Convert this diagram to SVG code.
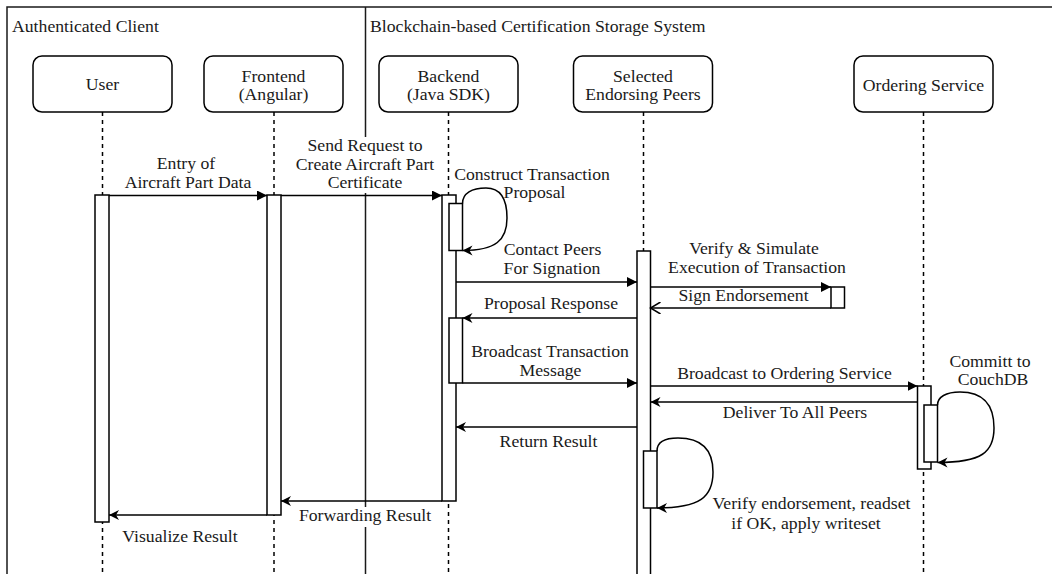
<svg xmlns="http://www.w3.org/2000/svg" width="1052" height="574" viewBox="0 0 1052 574">
<defs>
<style>
text{font-family:"Liberation Serif","Times New Roman",serif;font-size:17.7px;fill:#1a1a1a;text-anchor:middle}
.lt{text-anchor:start}
.frame{stroke:#1a1a1a;stroke-width:1.5;fill:none}
.node{fill:#fff;stroke:#000;stroke-width:1.5}
.life{stroke:#000;stroke-width:1.5;stroke-dasharray:4 4;fill:none}
.bar{fill:#fff;stroke:#000;stroke-width:1.5}
.msg{stroke:#000;stroke-width:1.5;fill:none}
.bg{fill:#fff;stroke:none}
</style>
<marker id="block" markerUnits="userSpaceOnUse" markerWidth="11" markerHeight="11" refX="10" refY="5" orient="auto"><path d="M0,0 L10,5 L0,10 z" fill="#000"/></marker>
<marker id="classic" markerUnits="userSpaceOnUse" markerWidth="11" markerHeight="11" refX="10" refY="5" orient="auto"><path d="M0,0 L10,5 L0,10 L3,5 z" fill="#000"/></marker>
<marker id="open" markerUnits="userSpaceOnUse" markerWidth="12" markerHeight="12" refX="10" refY="6" orient="auto"><path d="M0,0 L10,6 L0,12" fill="none" stroke="#000" stroke-width="1.5"/></marker>
</defs>
<rect width="1052" height="574" fill="#fff"/>

<g id="frame">
<path class="frame" d="M7,574 V7 H1052"/>
<path class="frame" d="M365.5,7 V574"/>
<text class="lt" x="12" y="32">Authenticated Client</text>
<text class="lt" x="370" y="32">Blockchain-based Certification Storage System</text>
</g>

<g id="lifelines">
<path class="life" d="M102.5,112 V574"/>
<path class="life" d="M274,112 V574"/>
<path class="life" d="M448.5,112 V574"/>
<path class="life" d="M643.5,112 V574"/>
<path class="life" d="M923.5,112 V574"/>
</g>

<g id="user">
<rect class="node" x="33" y="56" width="139" height="56" rx="9"/>
<text x="102.5" y="90">User</text>
</g>
<g id="frontend">
<rect class="node" x="204" y="56" width="139" height="56" rx="9"/>
<text x="273.5" y="81.5">Frontend</text>
<text x="273.5" y="99.5">(Angular)</text>
</g>
<g id="backend">
<rect class="node" x="379" y="56" width="139" height="56" rx="9"/>
<text x="448.5" y="81.5">Backend</text>
<text x="448.5" y="99.5">(Java SDK)</text>
</g>
<g id="peers">
<rect class="node" x="573.5" y="56" width="139" height="56" rx="9"/>
<text x="643" y="81.5">Selected</text>
<text x="643" y="99.5">Endorsing Peers</text>
</g>
<g id="ordering">
<rect class="node" x="854" y="56" width="139" height="56" rx="9"/>
<text x="923.5" y="90.5">Ordering Service</text>
</g>

<g id="activations">
<rect class="bar" x="95" y="195" width="14" height="327"/>
<rect class="bar" x="267" y="195" width="14" height="320"/>
<rect class="bar" x="442" y="195" width="14" height="306"/>
<rect class="bar" x="449" y="203.5" width="13.5" height="47"/>
<rect class="bar" x="449" y="318" width="13.5" height="65"/>
<rect class="bar" x="637" y="251" width="13.5" height="330"/>
<rect class="bar" x="643.5" y="451" width="13.5" height="57"/>
<rect class="bar" x="831" y="287" width="13.5" height="21"/>
<rect class="bar" x="917.5" y="386" width="13.5" height="83"/>
<rect class="bar" x="924" y="405" width="13.5" height="57"/>
</g>

<g id="connectors">
<path class="msg" d="M109,195.5 H267" marker-end="url(#block)"/>
<text x="186" y="169">Entry of</text>
<text x="188" y="188">Aircraft Part Data</text>

<rect class="bg" x="289" y="137" width="152" height="56"/>
<path class="msg" d="M281,195.5 H442" marker-end="url(#block)"/>
<text x="365" y="151">Send Request to</text>
<text x="365" y="169.5">Create Aircraft Part</text>
<text x="365" y="188">Certificate</text>

<path class="msg" d="M462.5,203.5 C462.5,193 472,188 486,188 C500,188 507,198 507,218 C507,240 496,250.5 462.5,250.5" marker-end="url(#classic)"/>
<text x="532" y="180">Construct Transaction</text>
<text x="534.5" y="198">Proposal</text>

<path class="msg" d="M456,282 H637" marker-end="url(#block)"/>
<text x="552.5" y="255">Contact Peers</text>
<text x="552" y="274">For Signation</text>

<path class="msg" d="M650.5,287 H831" marker-end="url(#block)"/>
<text x="754" y="254">Verify &amp; Simulate</text>
<text x="757" y="273">Execution of Transaction</text>

<path class="msg" d="M831,308 H650.5" marker-end="url(#open)"/>
<text x="743.5" y="301">Sign Endorsement</text>

<path class="msg" d="M637,318 H462.5" marker-end="url(#classic)"/>
<text x="551" y="309">Proposal Response</text>

<path class="msg" d="M462.5,383 H637" marker-end="url(#block)"/>
<text x="550" y="357">Broadcast Transaction</text>
<text x="550.5" y="376">Message</text>

<path class="msg" d="M650.5,386 H917.5" marker-end="url(#block)"/>
<text x="784.5" y="378.5">Broadcast to Ordering Service</text>

<path class="msg" d="M917.5,402 H650.5" marker-end="url(#classic)"/>
<text x="795" y="418">Deliver To All Peers</text>

<path class="msg" d="M937.5,405 C937.5,397 946,392 960,392 C984,392 994,405 994,428 C994,452 982,462.5 937.5,462.5" marker-end="url(#classic)"/>
<text x="990" y="367">Committ to</text>
<text x="993" y="385">CouchDB</text>

<path class="msg" d="M637,427 H456" marker-end="url(#classic)"/>
<text x="548.5" y="447">Return Result</text>

<path class="msg" d="M657,451 C657,443 664,438 678,438 C702,438 713,450 713,472 C713,497 700,508 657,508" marker-end="url(#classic)"/>
<text x="811.5" y="508.5">Verify endorsement, readset</text>
<text x="806" y="528.5">if OK, apply writeset</text>

<rect class="bg" x="297" y="507" width="136" height="20"/>
<path class="msg" d="M442,501 H281" marker-end="url(#classic)"/>
<text x="365" y="521">Forwarding Result</text>

<path class="msg" d="M267,515 H109" marker-end="url(#classic)"/>
<text x="180" y="542">Visualize Result</text>
</g>
</svg>
